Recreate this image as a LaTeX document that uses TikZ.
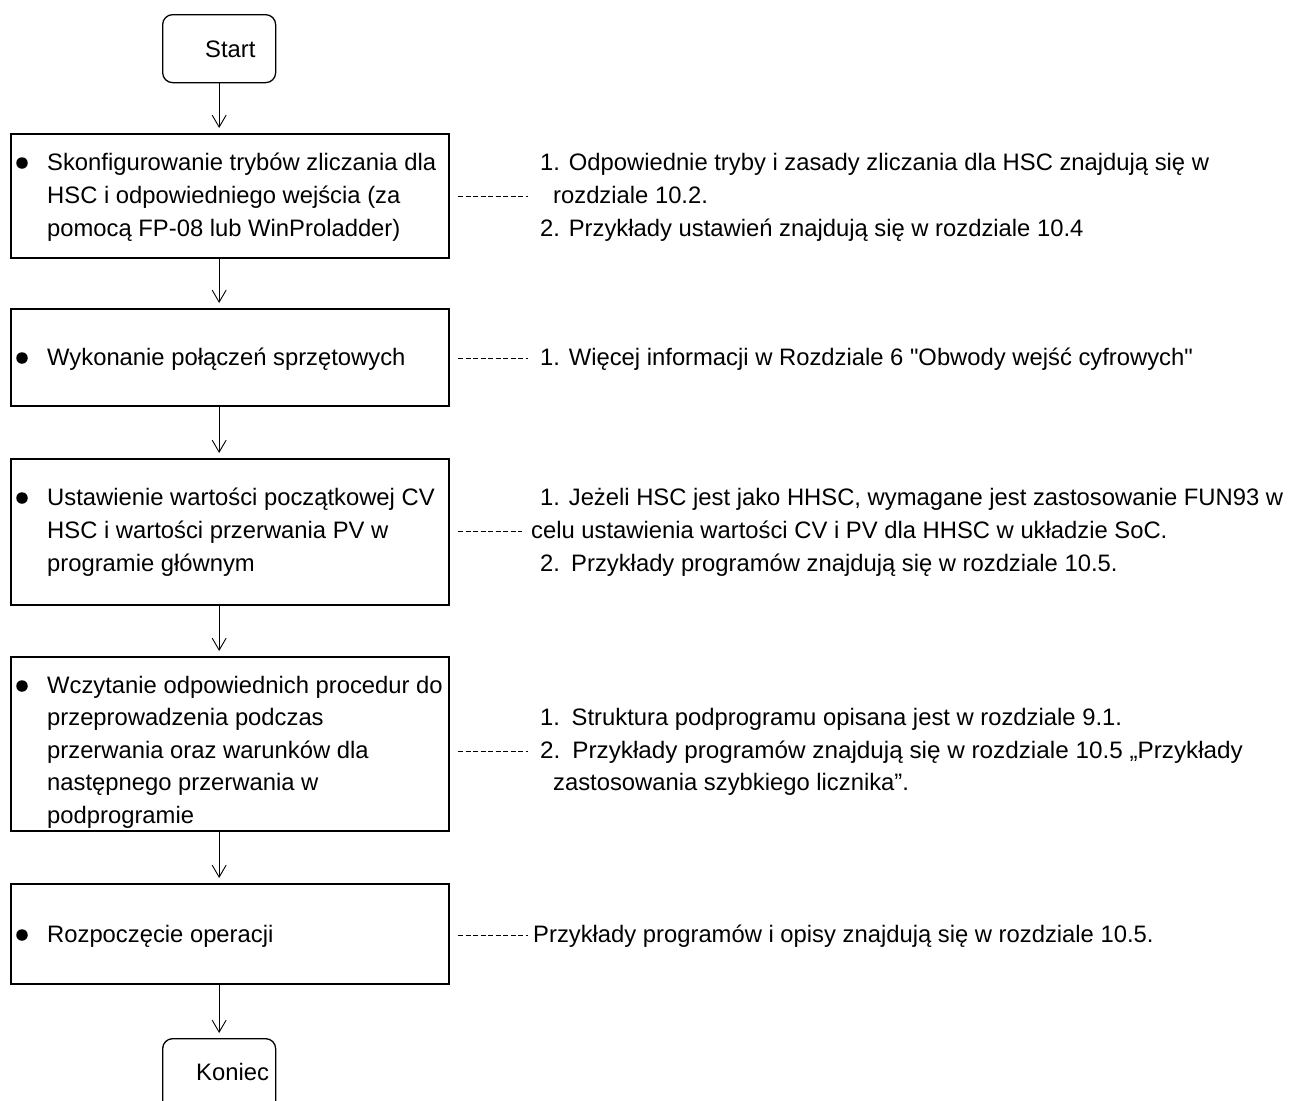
\documentclass[tikz,border=0pt]{standalone}
\usepackage{fontspec}
\setmainfont{Liberation Sans}[Ligatures=TeXOff]
\usetikzlibrary{arrows.meta}
\begin{document}
\begin{tikzpicture}[x=1pt,y=-1pt,
  stepbox/.style={draw, line width=2.2pt, minimum width=438pt, inner sep=0pt, anchor=north west},
  term/.style={draw, line width=1.3pt, rounded corners=10pt, minimum width=113pt, anchor=north west, inner sep=0pt},
  txt/.style={anchor=base west, inner sep=0pt, font=\fontsize{23.8}{28}\selectfont},
  flow/.style={-{Straight Barb[length=12pt,width=14pt]}, line width=0.9pt, shorten >=5pt},
  link/.style={dash pattern=on 5pt off 2.5pt, line width=0.8pt},
  dot/.style={circle, fill, inner sep=0pt, minimum size=11.5pt}
]
\useasboundingbox (0,0) rectangle (1297,1100);

% terminals
\node[term, minimum height=68pt] (start) at (162,14) {};
\node[txt] (tstart) at (205,57) {Start};
\node[term, minimum height=90pt] (end) at (162,1038) {};
\node[txt] (tend) at (196,1080) {Koniec};

% boxes
\node[stepbox, minimum height=124pt] (b1) at (10,133) {};
\node[stepbox, minimum height=97pt]  (b2) at (10,308) {};
\node[stepbox, minimum height=146pt] (b3) at (10,458) {};
\node[stepbox, minimum height=174pt] (b4) at (10,656) {};
\node[stepbox, minimum height=100pt] (b5) at (10,883) {};

% bullets
\node[dot] (d1) at (22,163) {};
\node[dot] (d2) at (22,358) {};
\node[dot] (d3) at (22,498) {};
\node[dot] (d4) at (22,686) {};
\node[dot] (d5) at (22,935) {};

% box texts
\node[txt] (t11) at (47,170) {Skonfigurowanie trybów zliczania dla};
\node[txt] (t12) at (47,203) {HSC i odpowiedniego wejścia (za};
\node[txt] (t13) at (47,236) {pomocą FP-08 lub WinProladder)};
\node[txt] (t21) at (47,365) {Wykonanie połączeń sprzętowych};
\node[txt] (t31) at (47,505) {Ustawienie wartości początkowej CV};
\node[txt] (t32) at (47,538) {HSC i wartości przerwania PV w};
\node[txt] (t33) at (47,571) {programie głównym};
\node[txt] (t41) at (47,693) {Wczytanie odpowiednich procedur do};
\node[txt] (t42) at (47,725.5) {przeprowadzenia podczas};
\node[txt] (t43) at (47,758) {przerwania oraz warunków dla};
\node[txt] (t44) at (47,790.5) {następnego przerwania w};
\node[txt] (t45) at (47,823) {podprogramie};
\node[txt] (t51) at (47,942) {Rozpoczęcie operacji};

% right texts
\node[txt] (r11) at (540,170) {1. Odpowiednie tryby i zasady zliczania dla HSC znajdują się w};
\node[txt] (r12) at (553,203) {rozdziale 10.2.};
\node[txt] (r13) at (540,236) {2. Przykłady ustawień znajdują się w rozdziale 10.4};
\node[txt] (r21) at (540,365) {1. Więcej informacji w Rozdziale 6 "Obwody wejść cyfrowych"};
\node[txt] (r31) at (540,505) {1. Jeżeli HSC jest jako HHSC, wymagane jest zastosowanie FUN93 w};
\node[txt] (r32) at (531,538) {celu ustawienia wartości CV i PV dla HHSC w układzie SoC.};
\node[txt] (r33) at (540,571) {2.\hspace{0.1em} Przykłady programów znajdują się w rozdziale 10.5.};
\node[txt] (r41) at (540,725.5) {1.\hspace{0.12em} Struktura podprogramu opisana jest w rozdziale 9.1.};
\node[txt] (r42) at (540,758) {\scalebox{1.02}[1]{2.\hspace{0.12em} Przykłady programów znajdują się w rozdziale 10.5 „Przykłady}};
\node[txt] (r43) at (553,790.5) {zastosowania szybkiego licznika”.};
\node[txt] (r51) at (533,942) {Przykłady programów i opisy znajdują się w rozdziale 10.5.};

% flow arrows
\draw[flow] (start.south) -- (start.south |- b1.north);
\draw[flow] (b1.south -| start.south) -- (b2.north -| start.south);
\draw[flow] (b2.south -| start.south) -- (b3.north -| start.south);
\draw[flow] (b3.south -| start.south) -- (b4.north -| start.south);
\draw[flow] (b4.south -| start.south) -- (b5.north -| start.south);
\draw[flow] (b5.south -| start.south) -- (end.north);

% dashed links
\coordinate (k1) at (458,196);
\coordinate (k2) at (458,358);
\coordinate (k3) at (458,531);
\coordinate (k4) at (458,751);
\coordinate (k5) at (458,935);
\draw[link] (k1) -- ++(70,0);
\draw[link] (k2) -- ++(70,0);
\draw[link] (k3) -- ++(64,0);
\draw[link] (k4) -- ++(70,0);
\draw[link] (k5) -- ++(70,0);
\end{tikzpicture}
\end{document}
